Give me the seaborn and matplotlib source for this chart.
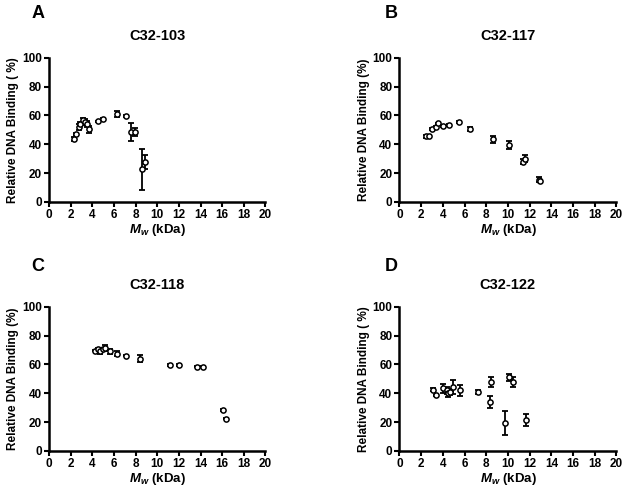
import numpy as np
import pandas as pd
import matplotlib
matplotlib.use("Agg")
import matplotlib.pyplot as plt
import seaborn as sns

# panel data: Mw (kDa), relative binding (%), error (%)
a_mw = [2.3, 2.5, 2.75, 2.9, 3.1, 3.3, 3.5, 3.65, 4.5, 4.95, 6.3, 7.15, 7.6, 7.95, 8.6, 8.85]
a_bind = [43.5, 47, 52, 54, 57, 55.5, 54, 50.5, 56, 57.5, 61, 59.5, 48.5, 48.5, 22.5, 27.5]
a_err = [1.5, 0.5, 2, 1.5, 1.5, 2, 2, 2.5, 0.5, 0.5, 2, 0.5, 6.5, 3, 14.5, 5]

b_mw = [2.45, 2.7, 3.0, 3.35, 3.6, 4.05, 4.55, 5.5, 6.5, 8.6, 10.1, 11.35, 11.6, 12.9, 13.0]
b_bind = [45.5, 46, 50.5, 52, 54.5, 52.5, 53.5, 55.5, 50.5, 43.5, 39.5, 28, 30, 15.5, 14.5]
b_err = [1, 0.5, 0.5, 0.5, 0.5, 0.5, 0.5, 0.5, 1.5, 2.5, 2.5, 2, 2.5, 1.5, 1]

c_mw = [4.2, 4.5, 4.75, 4.95, 5.15, 5.65, 6.25, 7.15, 8.45, 11.15, 12.0, 13.65, 14.25, 16.1, 16.35]
c_bind = [69.5, 70.5, 69, 70.5, 71.5, 69, 67.5, 66, 64, 59.5, 59.5, 58.5, 58.5, 28.5, 22.5]
c_err = [0.5, 0.5, 2, 1, 2, 1.5, 1.5, 0.5, 2.5, 0.5, 0.5, 0.5, 0.5, 0.5, 0.5]

d_mw = [3.1, 3.35, 4.05, 4.35, 4.5, 4.65, 4.95, 5.55, 7.25, 8.35, 8.45, 9.75, 10.1, 10.45, 11.7]
d_bind = [42.5, 38.5, 43.5, 42, 40, 41, 44.5, 42, 41, 34, 47.5, 19.5, 51, 48, 21.5]
d_err = [1, 0.5, 3, 2.5, 2.5, 2, 5, 4, 1.5, 4, 3.5, 8.5, 2.5, 3.5, 4]

panels = [
    ("A", "C32-103", "Relative DNA Binding ( %)", a_mw, a_bind, a_err),
    ("B", "C32-117", "Relative DNA Binding (%)", b_mw, b_bind, b_err),
    ("C", "C32-118", "Relative DNA Binding (%)", c_mw, c_bind, c_err),
    ("D", "C32-122", "Relative DNA Binding ( %)", d_mw, d_bind, d_err),
]

sns.set_style("ticks")
plt.rcParams["font.family"] = ["Liberation Sans", "DejaVu Sans"]
plt.rcParams["font.weight"] = "bold"
plt.rcParams["mathtext.fontset"] = "custom"
plt.rcParams["mathtext.it"] = "Liberation Sans:italic:bold"
plt.rcParams["mathtext.rm"] = "Liberation Sans:bold"
for k in ["text.color", "axes.labelcolor", "xtick.color", "ytick.color", "axes.edgecolor"]:
    plt.rcParams[k] = "black"

fig = plt.figure(figsize=(6.29, 4.91), dpi=100)
boxes = [
    [0.078, 0.589, 0.344, 0.293],
    [0.635, 0.589, 0.345, 0.293],
    [0.078, 0.0815, 0.344, 0.294],
    [0.635, 0.0815, 0.345, 0.294],
]
letter_pos = [(0.05, 0.972), (0.612, 0.972), (0.05, 0.458), (0.612, 0.458)]

for (letter, title, ylab, mw, bind, err), box, lp in zip(panels, boxes, letter_pos):
    ax = fig.add_axes(box)
    df = pd.DataFrame({"mw": mw, "bind": bind, "err": err})
    ax.errorbar(df["mw"], df["bind"], yerr=df["err"], fmt="none",
                ecolor="black", elinewidth=1.3, capsize=2.5, capthick=1.3, zorder=2)
    sns.scatterplot(data=df, x="mw", y="bind", ax=ax, marker="o", s=14,
                    facecolor="white", edgecolor="black", linewidth=1.1, zorder=3)
    ax.set_xlim(0, 20)
    ax.set_ylim(0, 100)
    ax.set_xticks(np.arange(0, 21, 2))
    ax.set_yticks(np.arange(0, 101, 20))
    sns.despine(ax=ax)
    for s in ["left", "bottom"]:
        ax.spines[s].set_linewidth(1.8)
    ax.tick_params(axis="both", length=3.5, width=1.5, labelsize=8.5, pad=1.5)
    for t in ax.get_xticklabels() + ax.get_yticklabels():
        t.set_fontweight("bold")
    ax.set_title(title, fontsize=10.5, fontweight="bold", pad=13)
    ax.set_xlabel(r"$M_w$ (kDa)", fontsize=9.5, fontweight="bold", labelpad=1)
    ax.set_ylabel(ylab, fontsize=8.5, fontweight="bold", labelpad=2)
    fig.text(lp[0], lp[1], letter, fontsize=13, fontweight="bold", va="center", ha="left")

fig.savefig("out.png", dpi=100)
